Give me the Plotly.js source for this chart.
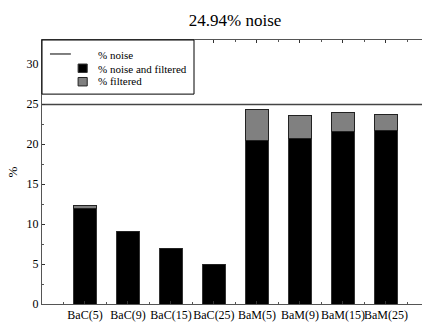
<!DOCTYPE html>
<html>
<head>
<meta charset="utf-8">
<script src="https://cdn.plot.ly/plotly-3.0.1.min.js"></script>
<style>html,body{margin:0;padding:0;overflow:hidden;background:#fff;}</style>
</head>
<body>
<div id="chart" style="width:422px;height:322px;"></div>
<script>
const categories = ["BaC(5)", "BaC(9)", "BaC(15)", "BaC(25)", "BaM(5)", "BaM(9)", "BaM(15)", "BaM(25)"];
const positions = [1, 2, 3, 4, 5, 6, 7, 8];
const noiseAndFiltered = [12.0, 9.1, 6.9, 5.0, 20.5, 20.75, 21.6, 21.7];
const filteredOnly = [0.3, 0, 0, 0, 3.85, 2.85, 2.4, 2.0];
const noiseLevel = 24.94;
const noiseX = [0, 8.84];
const legendLabels = ["% noise", "% noise and filtered", "% filtered"];
const titleText = "24.94% noise";

const serif = "Liberation Serif";
const sp = t => '<span style="font-family:Liberation Serif">' + t + '</span>';
const colNoise = "#444", colBlack = "#000", colGray = "#808080";

const traces = [
  {
    type: "scatter", mode: "lines", name: legendLabels[0],
    x: noiseX, y: noiseX.map(() => noiseLevel),
    line: {color: colNoise, width: 1.5},
    hoverinfo: "skip"
  },
  {
    type: "bar", name: legendLabels[1],
    x: positions, y: noiseAndFiltered, width: 0.52,
    marker: {color: colBlack, line: {color: "#333", width: 1}}
  },
  {
    type: "bar", name: legendLabels[2],
    x: positions, y: filteredOnly, width: 0.52,
    marker: {color: colGray, line: {color: "#222", width: 1}}
  }
];

const legendRowsY = [0.943, 0.891, 0.843];
const shapes = [
  {type: "rect", xref: "paper", yref: "paper", x0: 0, x1: 0.40, y0: 0.795, y1: 1,
   line: {color: "#000", width: 1}, fillcolor: "#fff", layer: "above"},
  {type: "line", xref: "paper", yref: "paper", x0: 0.021, x1: 0.076, y0: 0.947, y1: 0.947,
   line: {color: "#000", width: 1}, layer: "above"},
  {type: "rect", xref: "paper", yref: "paper", x0: 0.095, x1: 0.119, y0: 0.877, y1: 0.909,
   line: {color: "#333", width: 1}, fillcolor: colBlack, layer: "above"},
  {type: "rect", xref: "paper", yref: "paper", x0: 0.095, x1: 0.119, y0: 0.826, y1: 0.858,
   line: {color: "#222", width: 1}, fillcolor: colGray, layer: "above"}
];
const annotations = legendLabels.map((t, i) => ({
  text: sp(t), xref: "paper", yref: "paper", x: 0.141, y: legendRowsY[i],
  xanchor: "left", yanchor: "middle", showarrow: false,
  font: {family: serif, size: 11, color: "#000"}
}));

const layout = {
  width: 422, height: 322,
  margin: {l: 42, r: 0, t: 40, b: 18},
  paper_bgcolor: "#fff", plot_bgcolor: "#fff",
  barmode: "stack",
  font: {family: serif, size: 12, color: "#000"},
  title: {text: sp(titleText), font: {family: serif, size: 17, color: "#000"}, x: 0.557, xanchor: "center", y: 0.937, yanchor: "middle"},
  showlegend: false,
  shapes: shapes,
  annotations: annotations,
  xaxis: {
    range: [0, 8.84], tickvals: positions, ticktext: categories, tickangle: 0,
    showgrid: false, zeroline: false,
    showline: true, linecolor: "#555", linewidth: 1, mirror: "ticks",
    ticks: "inside", ticklen: 3, tickcolor: "#333",
    minor: {dtick: 0.5, tick0: 0.5, ticks: "inside", ticklen: 2, tickcolor: "#555"},
    tickfont: {family: serif, size: 12}, fixedrange: true
  },
  yaxis: {
    range: [0, 33], dtick: 5, tick0: 0,
    showgrid: false, zeroline: false,
    showline: true, linecolor: "#555", linewidth: 1,
    ticks: "inside", ticklen: 3, tickcolor: "#333",
    minor: {dtick: 2.5, ticks: "inside", ticklen: 2, tickcolor: "#555"},
    tickfont: {family: serif, size: 12},
    title: {text: sp("%"), font: {family: serif, size: 13}, standoff: 6},
    fixedrange: true
  }
};

Plotly.newPlot("chart", traces, layout, {displayModeBar: false, staticPlot: true});
</script>
</body>
</html>
